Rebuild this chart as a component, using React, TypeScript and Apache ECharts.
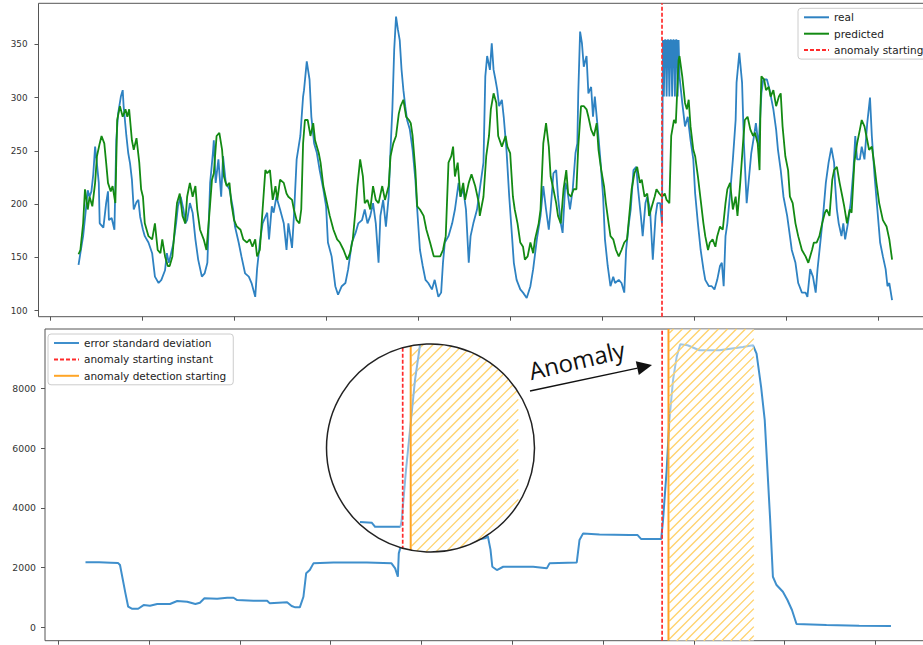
import React, { useEffect, useRef } from 'react';
import * as echarts from 'echarts';

// ---------- data ----------
const xTicks = [0, 100, 200, 300, 400, 500, 600, 700, 800, 900];
const topYTicks = [100, 150, 200, 250, 300, 350];
const bottomYTicks = [0, 2000, 4000, 6000, 8000];

const topXRange = [-12.5, 960];
const topYRange = [94.4, 388.5];
const bottomXRange = [-14.6, 960];
const bottomYRange = [-448, 9983];

const anomalyStart = 665;
const detectionStart = 672;
const detectionEnd = 766;

const real: [number, number][] = [
  [31,143],[33,154],[36,170],[39,195],[41,213],[43,207],[45,212],[47,228],[49,254],[51,238],[53,220],[54,182],[58,178],[61,201],[63,212],[64,185],[67,187],[70,176],[72,260],[74,285],[77,301],[79,307],[80,292],[83,264],[85,248],[87,238],[89,223],[91,195],[94,202],[96,204],[98,188],[101,176],[103,170],[107,164],[111,154],[114,132],[118,126],[121,129],[125,138],[127,154],[129,145],[130,148],[134,163],[137,182],[139,198],[142,207],[145,195],[147,182],[149,185],[152,201],[155,192],[158,167],[161,148],[165,132],[168,135],[171,145],[174,220],[177,248],[178,260],[180,220],[183,242],[186,207],[188,245],[191,220],[195,214],[199,195],[201,179],[205,164],[208,151],[212,135],[216,132],[219,126],[223,113],[225,139],[228,164],[231,182],[234,188],[236,192],[238,167],[241,198],[243,192],[246,207],[250,195],[254,182],[257,157],[259,182],[263,159],[265,188],[268,242],[272,264],[275,301],[276,307],[279,334],[282,317],[284,282],[287,257],[290,248],[293,232],[297,214],[300,198],[302,164],[306,151],[310,123],[313,115],[317,123],[321,126],[324,139],[328,164],[332,173],[335,182],[339,185],[342,195],[345,182],[348,189],[351,201],[354,182],[357,145],[359,189],[362,204],[365,179],[368,207],[370,251],[372,289],[374,345],[376,376],[378,364],[380,354],[382,326],[384,307],[386,292],[388,279],[391,270],[394,251],[397,223],[399,195],[402,157],[405,142],[408,129],[411,126],[415,120],[418,129],[422,113],[425,117],[427,145],[429,164],[433,170],[437,182],[440,195],[444,220],[446,207],[449,214],[452,195],[455,145],[457,170],[460,182],[464,195],[467,214],[471,239],[473,320],[475,339],[478,326],[480,351],[482,326],[484,317],[486,307],[488,292],[491,298],[493,282],[496,251],[499,207],[502,170],[504,145],[507,129],[511,120],[514,117],[518,112],[522,123],[525,139],[529,167],[533,189],[536,217],[539,195],[542,176],[544,195],[547,229],[550,232],[552,207],[555,182],[557,173],[560,220],[562,214],[565,195],[568,214],[571,248],[573,257],[574,304],[576,362],[578,351],[580,329],[583,339],[585,304],[588,310],[590,282],[592,301],[595,273],[598,242],[601,207],[603,167],[606,142],[609,123],[612,132],[614,126],[618,129],[621,126],[624,117],[626,157],[629,182],[631,195],[634,232],[637,235],[639,214],[642,189],[644,170],[647,201],[649,207],[652,195],[655,148],[658,189],[660,201],[663,201],[665,182],[666,354],[667,301],[668,354],[669,354],[670,301],[671,354],[672,354],[673,301],[674,354],[675,354],[676,301],[677,354],[678,354],[679,301],[680,354],[681,354],[682,301],[683,354],[684,320],[687,295],[690,273],[693,282],[696,260],[699,242],[701,210],[704,182],[707,157],[710,139],[712,129],[716,123],[719,123],[722,120],[725,129],[728,142],[730,145],[732,123],[734,170],[736,182],[739,210],[742,242],[745,279],[746,314],[749,342],[752,314],[754,257],[757,201],[759,220],[762,248],[765,264],[767,276],[770,254],[773,304],[775,317],[779,317],[782,307],[786,289],[789,270],[791,251],[794,232],[797,207],[801,189],[804,170],[806,157],[810,145],[813,126],[817,117],[821,117],[823,113],[826,139],[829,132],[832,117],[834,139],[837,164],[840,189],[843,220],[846,239],[849,253],[852,239],[853,220],[855,195],[857,182],[860,170],[862,182],[864,167],[867,182],[870,201],[873,232],[875,264],[877,242],[880,242],[882,254],[885,242],[888,276],[891,300],[893,264],[896,226],[899,195],[902,164],[905,151],[908,139],[910,123],[912,126],[915,110]
];

const predicted: [number, number][] = [
  [31,153],[33,157],[36,182],[38,214],[41,195],[43,207],[46,198],[49,220],[51,245],[54,257],[56,264],[59,257],[61,239],[63,220],[66,212],[68,217],[71,201],[73,279],[76,292],[79,282],[82,289],[84,282],[86,289],[89,260],[91,251],[94,262],[97,239],[99,214],[101,207],[103,182],[107,170],[111,167],[114,182],[117,157],[120,154],[122,167],[125,151],[128,142],[130,142],[133,151],[136,182],[138,201],[141,210],[144,189],[147,182],[149,207],[152,220],[155,207],[158,217],[160,195],[163,176],[167,167],[170,157],[173,189],[176,223],[178,229],[181,264],[184,267],[187,251],[189,226],[192,217],[195,220],[197,201],[200,185],[203,179],[207,176],[210,167],[214,164],[217,167],[220,160],[223,167],[225,151],[228,157],[231,195],[234,232],[236,229],[239,232],[242,204],[245,217],[247,204],[250,223],[254,220],[257,210],[259,207],[263,204],[265,195],[268,185],[271,182],[273,195],[275,257],[277,279],[280,279],[283,264],[286,276],[288,260],[292,248],[294,239],[297,217],[301,201],[304,189],[308,176],[312,167],[315,164],[319,157],[323,148],[326,154],[329,167],[332,195],[334,217],[337,242],[340,226],[342,201],[345,204],[348,195],[351,217],[354,204],[357,201],[361,217],[364,204],[368,217],[370,245],[373,257],[376,264],[379,285],[381,292],[384,298],[387,282],[390,279],[392,276],[394,264],[397,232],[399,198],[402,195],[406,189],[409,176],[413,164],[417,151],[420,151],[424,151],[427,157],[430,170],[433,239],[436,245],[438,254],[440,226],[443,239],[446,207],[449,220],[451,204],[455,220],[458,228],[462,217],[466,201],[467,189],[471,207],[474,245],[477,264],[479,289],[482,304],[485,295],[487,264],[491,254],[495,264],[497,254],[500,248],[503,207],[505,195],[508,182],[511,164],[514,160],[516,148],[519,151],[522,164],[525,154],[527,167],[531,182],[533,195],[536,257],[539,276],[542,254],[544,226],[547,214],[550,201],[552,189],[555,182],[558,214],[561,232],[563,210],[566,207],[569,214],[572,214],[574,254],[577,292],[580,292],[583,289],[585,282],[588,270],[591,264],[594,276],[596,251],[599,232],[602,217],[604,201],[607,182],[609,170],[612,167],[615,157],[618,151],[621,157],[624,164],[627,167],[630,195],[632,214],[635,229],[638,235],[641,220],[643,223],[646,207],[649,210],[651,189],[654,198],[657,207],[659,214],[662,210],[665,207],[668,210],[670,204],[673,201],[675,264],[678,279],[680,276],[683,335],[684,339],[687,320],[690,295],[692,289],[694,298],[696,273],[699,251],[701,245],[704,226],[707,204],[710,182],[712,170],[715,157],[717,164],[720,167],[723,160],[725,170],[728,179],[731,176],[734,201],[736,214],[739,220],[742,195],[745,207],[747,189],[750,220],[753,257],[755,279],[758,282],[761,270],[764,264],[766,267],[769,257],[771,232],[772,290],[773,320],[776,317],[778,307],[781,310],[783,301],[786,307],[789,292],[792,301],[794,304],[796,273],[799,245],[802,232],[804,207],[807,201],[810,182],[813,170],[817,157],[821,151],[824,145],[828,157],[830,164],[833,164],[836,170],[839,182],[842,192],[844,195],[847,189],[850,223],[852,232],[855,235],[858,220],[861,207],[863,198],[866,182],[869,195],[871,192],[874,239],[877,257],[880,270],[882,279],[885,273],[888,260],[890,251],[893,254],[896,235],[898,220],[901,201],[905,185],[909,179],[912,167],[915,148]
];

const errorStd: [number, number][] = [
  [30,2180],[45,2175],[58,2160],[66,2150],[68,2085],[74,1137],[77,690],[81,622],[88,622],[94,745],[101,722],[109,779],[123,779],[131,880],[142,856],[151,779],[156,823],[161,970],[175,957],[186,990],[193,990],[197,913],[215,890],[230,890],[233,802],[252,836],[257,712],[261,669],[266,669],[270,1023],[273,1806],[277,1916],[281,2140],[303,2173],[340,2173],[367,2140],[371,1973],[374,1692],[375,2474],[377,2695],[464,2950],[471,2990],[473,3060],[476,2600],[478,2027],[483,1916],[490,2027],[523,2027],[538,1973],[541,2140],[571,2173],[574,2920],[578,3143],[596,3110],[629,3087],[638,3087],[642,2953],[664,2953],[666,3588],[670,5260],[673,6933],[677,8270],[681,9049],[685,9474],[693,9440],[706,9273],[728,9273],[754,9383],[765,9440],[769,9162],[774,8046],[778,6933],[781,5260],[784,3588],[787,1692],[791,1415],[798,1190],[803,913],[808,579],[813,110],[846,77],[882,54],[917,43]
];

// ---------- styling ----------
const BLUE = '#2e82c2';
const BLUE_BOTTOM = '#3f8fcc';
const GREEN = '#138a13';
const RED = '#ff2b2b';
const ORANGE = '#ffa526';
const HATCH = '#ffd26a';
const FRAME = '#555';
const FONT = 'DejaVu Sans';

// magnifier geometry (annotation, in pixels)
const MAG = { cx: 430.5, cy: 448, r: 104 };

function circleHatch(cx: number, cy: number, r: number, xa: number, xb: number, step: number) {
  const out: any[] = [];
  for (let c = xa + cy - r - 2 * r; c <= xb + cy + r; c += step) {
    const k = c - cx - cy;
    const disc = 2 * r * r - k * k;
    if (disc <= 0) continue;
    const s = Math.sqrt(disc);
    const x1 = Math.max(xa, cx + (k - s) / 2);
    const x2 = Math.min(xb, cx + (k + s) / 2);
    if (x2 - x1 > 0.5) {
      out.push({
        type: 'line', z: 101, silent: true,
        shape: { x1, y1: c - x1, x2, y2: c - x2 },
        style: { stroke: HATCH, lineWidth: 1.3 },
      });
    }
  }
  return out;
}

function buildGraphic() {
  const { cx, cy, r } = MAG;
  const chordY = (x: number) => Math.sqrt(r * r - (x - cx) * (x - cx));
  const redX = 402.7;
  const orX = 410.7;
  const els: any[] = [];
  els.push({ type: 'circle', z: 100, shape: { cx, cy, r }, style: { fill: '#fff', stroke: 'none' } });
  els.push(...circleHatch(cx, cy, r, orX + 1, 518.3, 10));
  els.push({
    type: 'polyline', z: 102,
    shape: { points: [[360, 522], [371.7, 522.7], [375, 526.7], [400.5, 526.7]] },
    style: { stroke: BLUE_BOTTOM, lineWidth: 2, fill: 'none' },
  });
  els.push({
    type: 'polyline', z: 102,
    shape: { points: [[400.5, 526.7], [401.7, 520], [406, 470], [410, 430], [415, 380], [420, 345]] },
    style: { stroke: '#8dbbe0', lineWidth: 2, fill: 'none' },
  });
  els.push({
    type: 'line', z: 103,
    shape: { x1: redX, y1: cy - chordY(redX), x2: redX, y2: cy + chordY(redX) },
    style: { stroke: RED, lineWidth: 1.7, lineDash: [4, 2] },
  });
  els.push({
    type: 'line', z: 103,
    shape: { x1: orX, y1: cy - chordY(orX), x2: orX, y2: cy + chordY(orX) },
    style: { stroke: ORANGE, lineWidth: 2 },
  });
  els.push({ type: 'circle', z: 104, shape: { cx, cy, r }, style: { fill: 'none', stroke: '#222', lineWidth: 1.5 } });
  // annotation text and arrow
  els.push({
    type: 'text', z: 105, x: 529, y: 371, rotation: 0.23,
    style: {
      text: 'Anomaly', fontSize: 24, fontFamily: 'Open Sans', fill: '#111',
      textAlign: 'left', verticalAlign: 'middle', textVerticalAlign: 'middle',
    },
  });
  els.push({
    type: 'line', z: 105,
    shape: { x1: 530, y1: 391, x2: 637.5, y2: 368.1 },
    style: { stroke: '#111', lineWidth: 1.3 },
  });
  els.push({
    type: 'polygon', z: 105,
    shape: { points: [[652, 365], [638.8, 375], [635.8, 361.3]] },
    style: { fill: '#111', stroke: 'none' },
  });
  return els;
}

function buildOption(): any {
  const tickStyle = { lineStyle: { color: FRAME, width: 1 }, length: 4 };
  const hiddenLine = { show: false, onZero: false };
  const legendCommon = {
    orient: 'vertical',
    backgroundColor: 'rgba(255,255,255,0.85)',
    borderColor: '#cccccc',
    borderWidth: 1,
    borderRadius: 3,
    padding: [3, 7, 3, 5],
    itemWidth: 25,
    itemHeight: 12,
    itemGap: 4.4,
    itemStyle: { color: 'rgba(0,0,0,0)', borderColor: 'rgba(0,0,0,0)', borderWidth: 0, opacity: 0 },
    textStyle: { fontFamily: FONT, fontSize: 10.5, color: '#222', lineHeight: 12 },
  };
  const plain = (v: number) => String(v);
  return {
    animation: false,
    backgroundColor: '#fff',
    textStyle: { fontFamily: FONT },
    grid: [
      { left: 38.5, top: 3.3, width: 895, height: 313.4, show: true, borderColor: FRAME, borderWidth: 1, backgroundColor: 'transparent' },
      { left: 45, top: 329, width: 885, height: 311.7, show: true, borderColor: FRAME, borderWidth: 1, backgroundColor: 'transparent' },
    ],
    xAxis: [
      {
        type: 'value', gridIndex: 0, min: topXRange[0], max: topXRange[1],
        axisLine: hiddenLine, splitLine: { show: false },
        axisTick: { show: true, customValues: xTicks, ...tickStyle },
        axisLabel: { show: false },
      },
      {
        type: 'value', gridIndex: 1, min: bottomXRange[0], max: bottomXRange[1],
        axisLine: hiddenLine, splitLine: { show: false },
        axisTick: { show: true, customValues: xTicks, ...tickStyle },
        axisLabel: { show: false },
      },
    ],
    yAxis: [
      {
        type: 'value', gridIndex: 0, min: topYRange[0], max: topYRange[1],
        axisLine: hiddenLine, splitLine: { show: false },
        axisTick: { show: true, customValues: topYTicks, ...tickStyle },
        axisLabel: { customValues: topYTicks, formatter: plain, fontSize: 8.8, color: '#333', margin: 11, fontFamily: FONT },
      },
      {
        type: 'value', gridIndex: 1, min: bottomYRange[0], max: bottomYRange[1],
        axisLine: hiddenLine, splitLine: { show: false },
        axisTick: { show: true, customValues: bottomYTicks, ...tickStyle },
        axisLabel: { customValues: bottomYTicks, formatter: plain, fontSize: 9.3, color: '#333', margin: 9, fontFamily: FONT },
      },
    ],
    legend: [
      { ...legendCommon, left: 798, top: 8.3, data: ['real', 'predicted', 'anomaly starting'] },
      { ...legendCommon, left: 48, top: 334, data: ['error standard deviation', 'anomaly starting instant', 'anomaly detection starting'] },
    ],
    series: [
      {
        name: 'real', type: 'line', xAxisIndex: 0, yAxisIndex: 0, data: real,
        symbol: 'none', showSymbol: false, color: BLUE, lineStyle: { color: BLUE, width: 1.8 }, z: 2,
      },
      {
        name: 'predicted', type: 'line', xAxisIndex: 0, yAxisIndex: 0, data: predicted,
        symbol: 'none', showSymbol: false, color: GREEN, lineStyle: { color: GREEN, width: 1.8 }, z: 3,
      },
      {
        name: 'anomaly starting', type: 'line', xAxisIndex: 0, yAxisIndex: 0,
        data: [[anomalyStart, topYRange[0]], [anomalyStart, topYRange[1]]],
        symbol: 'none', showSymbol: false, color: RED, lineStyle: { color: RED, width: 1.7, type: [4, 2] }, z: 4,
      },
      {
        name: 'error standard deviation', type: 'line', xAxisIndex: 1, yAxisIndex: 1, data: errorStd,
        symbol: 'none', showSymbol: false, color: BLUE_BOTTOM, lineStyle: { color: BLUE_BOTTOM, width: 2 }, z: 2,
      },
      {
        name: 'anomaly starting instant', type: 'line', xAxisIndex: 1, yAxisIndex: 1,
        data: [[anomalyStart, bottomYRange[0]], [anomalyStart, bottomYRange[1]]],
        symbol: 'none', showSymbol: false, color: RED, lineStyle: { color: RED, width: 1.7, type: [4, 2] }, z: 4,
      },
      {
        name: 'anomaly detection starting', type: 'line', xAxisIndex: 1, yAxisIndex: 1,
        data: [[detectionStart, bottomYRange[0]], [detectionStart, bottomYRange[1]]],
        symbol: 'none', showSymbol: false, color: ORANGE, lineStyle: { color: ORANGE, width: 2 }, z: 4,
      },
      {
        type: 'custom', xAxisIndex: 1, yAxisIndex: 1, silent: true, z: 3,
        data: [[detectionStart, detectionEnd, bottomYRange[0], bottomYRange[1]]],
        encode: { x: [0, 1], y: [2, 3] },
        renderItem: (_params: any, api: any) => {
          const a = api.coord([api.value(0), api.value(3)]);
          const b = api.coord([api.value(1), api.value(2)]);
          const xa = a[0] + 1, ya = a[1], xb = b[0], yb = b[1];
          const children: any[] = [
            { type: 'rect', shape: { x: xa, y: ya, width: xb - xa, height: yb - ya }, style: { fill: 'rgba(255,255,255,0.5)' } },
          ];
          for (let c = xa + ya + 4; c < xb + yb; c += 9) {
            const x1 = Math.max(xa, c - yb);
            const x2 = Math.min(xb, c - ya);
            if (x2 - x1 > 0.5) {
              children.push({ type: 'line', shape: { x1, y1: c - x1, x2, y2: c - x2 }, style: { stroke: HATCH, lineWidth: 1.3 } });
            }
          }
          return { type: 'group', children };
        },
      },
    ],
    graphic: buildGraphic(),
  };
}

export default function App() {
  const ref = useRef<HTMLDivElement>(null);
  useEffect(() => {
    if (!ref.current) return;
    const chart = echarts.init(ref.current, null, { renderer: 'svg' });
    chart.setOption(buildOption());
    return () => chart.dispose();
  }, []);
  return (
    <div style={{ position: 'fixed', left: 0, top: 0, width: 923, height: 645, overflow: 'hidden', background: '#fff' }}>
      <div ref={ref} style={{ width: 960, height: 645 }} />
    </div>
  );
}
